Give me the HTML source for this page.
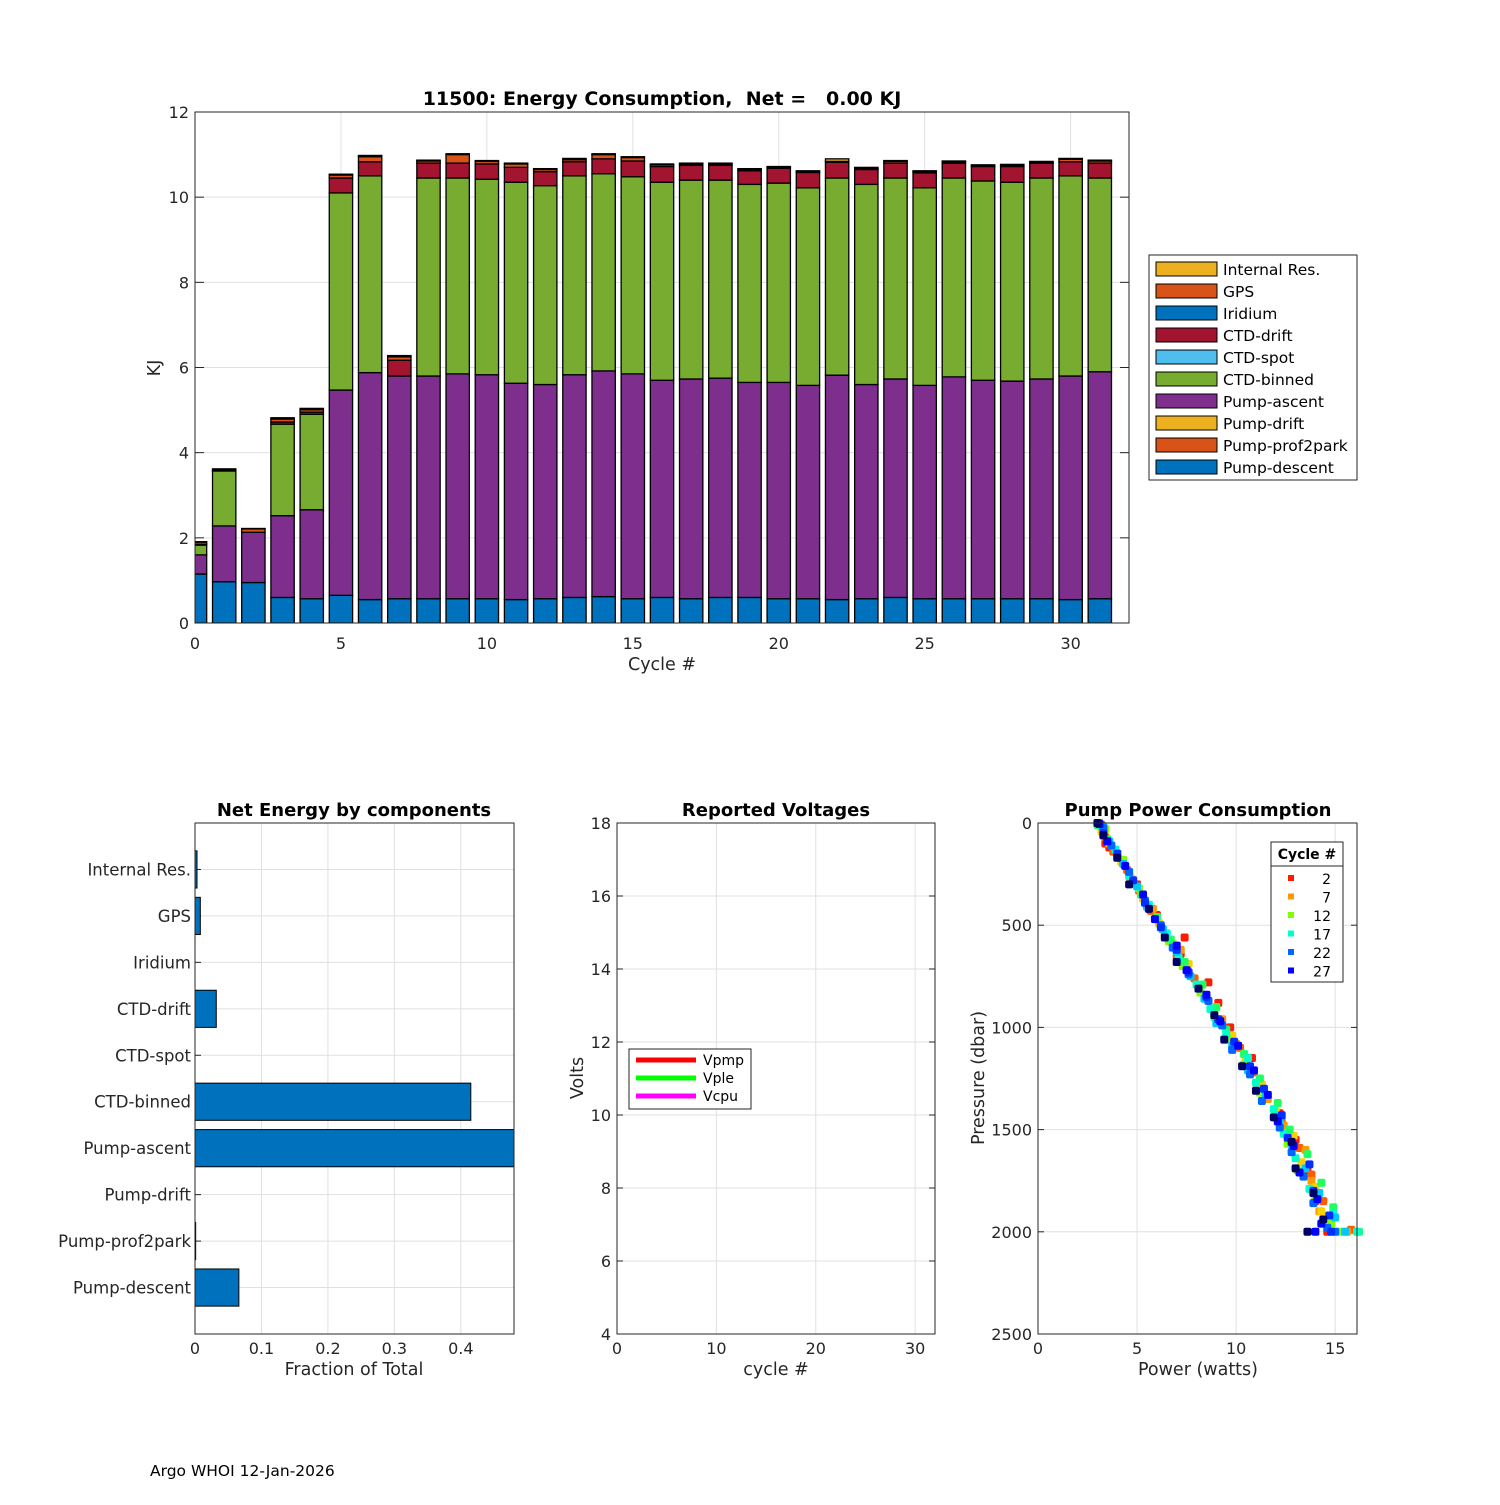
<!DOCTYPE html>
<html><head><meta charset="utf-8"><style>
body{margin:0;background:#fff;}
svg{font-family:"DejaVu Sans","Liberation Sans",sans-serif;}
</style></head><body>
<svg id="s" width="1500" height="1500" xmlns="http://www.w3.org/2000/svg"></svg>
<script>
// ---- Top chart data (KJ per component per cycle) ----
const cycles=[0,1,2,3,4,5,6,7,8,9,10,11,12,13,14,15,16,17,18,19,20,21,22,23,24,25,26,27,28,29,30,31];
const pumpDescent=[1.15,0.97,0.95,0.6,0.57,0.65,0.55,0.57,0.57,0.57,0.57,0.55,0.57,0.6,0.62,0.57,0.6,0.57,0.6,0.6,0.57,0.57,0.55,0.57,0.6,0.57,0.57,0.57,0.57,0.57,0.55,0.57];
const pumpProf2park=[0,0,0,0,0,0,0,0,0,0,0,0,0,0,0,0,0,0,0,0,0,0,0,0,0,0,0,0,0,0,0,0];
const pumpDrift=[0,0,0,0,0,0,0,0,0,0,0,0,0,0,0,0,0,0,0,0,0,0,0,0,0,0,0,0,0,0,0,0];
const pumpAscent=[0.45,1.31,1.18,1.92,2.09,4.82,5.33,5.23,5.23,5.28,5.26,5.08,5.03,5.23,5.3,5.28,5.1,5.16,5.15,5.05,5.08,5.01,5.27,5.03,5.13,5.01,5.21,5.13,5.11,5.16,5.25,5.33];
const ctdBinned=[0.23,1.29,0,2.15,2.24,4.63,4.62,0,4.65,4.6,4.59,4.72,4.67,4.67,4.63,4.63,4.65,4.67,4.65,4.65,4.68,4.64,4.63,4.7,4.72,4.64,4.67,4.68,4.67,4.72,4.7,4.55];
const ctdSpot=[0,0,0,0,0,0,0,0,0,0,0,0,0,0,0,0,0,0,0,0,0,0,0,0,0,0,0,0,0,0,0,0];
const ctdDrift=[0.02,0,0,0.05,0.05,0.35,0.33,0.37,0.35,0.35,0.36,0.35,0.33,0.33,0.35,0.37,0.37,0.35,0.35,0.32,0.35,0.36,0.37,0.35,0.35,0.35,0.35,0.34,0.37,0.35,0.33,0.35];
const iridium=[0,0,0,0,0,0,0,0,0,0,0,0,0,0,0,0,0,0,0,0,0,0,0,0,0,0,0,0,0,0,0,0];
const gps=[0.05,0.02,0.08,0.07,0.06,0.07,0.12,0.08,0.05,0.2,0.06,0.08,0.05,0.05,0.1,0.08,0.04,0.03,0.03,0.03,0.02,0.02,0.02,0.03,0.04,0.03,0.03,0.02,0.03,0.02,0.06,0.05];
const internalRes=[0.01,0.03,0.01,0.03,0.03,0.02,0.03,0.03,0.02,0.02,0.02,0.02,0.02,0.03,0.02,0.02,0.02,0.02,0.02,0.02,0.02,0.02,0.06,0.02,0.02,0.02,0.02,0.02,0.02,0.02,0.02,0.02];
const compNames=["Pump-descent","Pump-prof2park","Pump-drift","Pump-ascent","CTD-binned","CTD-spot","CTD-drift","Iridium","GPS","Internal Res."];
const compColors=["#0072BD","#D95319","#EDB120","#7E2F8E","#77AC30","#4DBEEE","#A2142F","#0072BD","#D95319","#EDB120"];
const yTicksTop=[0,2,4,6,8,10,12];
const xTicksTop=[0,5,10,15,20,25,30];
// ---- Fraction chart ----
const fracCats=["Internal Res.","GPS","Iridium","CTD-drift","CTD-spot","CTD-binned","Pump-ascent","Pump-drift","Pump-prof2park","Pump-descent"];
const fracVals=[0.003,0.008,0,0.032,0,0.415,0.49,0,0.001,0.066];
const fracTicks=[0,0.1,0.2,0.3,0.4];
// ---- Voltage chart ----
const voltYTicks=[4,6,8,10,12,14,16,18];
const voltXTicks=[0,10,20,30];
// ---- Pump power scatter ----
const pumpCycles=[2,4,7,9,12,14,17,19,22,24,27,31];
const pumpPres=[
[10,60,100,120,300,450,560,640,780,880,1000,1150,1300,1420,1550,1700,1850,2000],
[0,70,140,230,330,430,540,650,760,870,990,1100,1220,1340,1460,1590,1720,1850,1990],
[20,150,280,420,520,620,720,850,960,1080,1200,1350,1480,1600,1750,1900,2000],
[40,100,190,270,370,490,590,690,800,920,1040,1160,1280,1410,1530,1660,1780,1900,2000],
[30,180,320,460,580,700,830,950,1060,1180,1320,1440,1570,1700,1820,1960,2000],
[10,80,160,250,350,460,570,680,790,900,1010,1130,1250,1370,1500,1620,1760,1880,2000],
[15,130,260,400,540,660,790,910,1030,1150,1270,1400,1520,1640,1790,1910,2000],
[20,90,200,310,410,520,630,750,860,980,1090,1210,1330,1450,1570,1690,1810,1930,2000],
[25,110,240,380,500,610,740,870,990,1110,1230,1360,1490,1610,1730,1860,1980,2000],
[5,50,150,280,390,510,620,730,850,960,1070,1190,1300,1430,1540,1670,1800,1920,2000],
[5,90,210,350,470,600,720,840,970,1090,1210,1330,1460,1580,1710,1840,1960,2000],
[0,60,170,300,420,560,680,810,940,1060,1190,1310,1440,1560,1690,1810,1940,2000]];
const pumpPow=[
[3.2,3.3,3.4,3.6,5.0,6.0,7.4,7.2,8.6,9.1,9.7,10.8,11.4,12.2,13.0,13.6,14.0,14.6],
[3.1,3.4,3.8,4.5,5.1,5.7,6.4,7.0,7.9,8.6,9.3,10.2,10.9,11.5,12.3,13.2,13.8,14.4,15.8],
[3.3,4.0,4.8,5.8,6.3,7.2,7.5,8.4,9.3,10.0,10.6,11.6,12.4,13.5,13.8,14.2,15.6],
[3.2,3.6,4.2,4.7,5.3,6.1,6.8,7.6,8.2,8.9,9.8,10.5,11.3,12.0,12.9,13.3,14.0,14.3,15.4],
[3.4,4.3,5.1,6.0,6.6,7.3,8.2,8.9,9.6,10.4,11.2,12.0,12.6,13.1,14.0,14.8,15.2],
[3.0,3.5,4.0,4.6,5.2,6.0,6.7,7.4,8.3,9.0,9.5,10.4,11.2,12.1,12.7,13.6,14.3,14.9,16.2],
[3.2,3.9,4.6,5.6,6.5,7.1,8.0,8.7,9.5,10.6,11.0,11.9,12.4,13.0,13.7,14.9,16.1],
[3.3,3.6,4.3,5.0,5.5,6.3,7.0,7.7,8.4,9.0,9.8,10.6,11.5,12.2,12.8,13.5,14.2,15.0,15.5],
[3.3,3.7,4.6,5.4,6.2,6.8,7.6,8.6,9.3,9.8,10.7,11.3,12.2,12.8,13.4,13.9,14.6,15.0],
[3.1,3.3,4.0,4.8,5.4,6.2,7.0,7.6,8.5,9.1,9.9,10.7,11.4,12.3,12.6,13.7,13.9,14.7,14.8],
[3.1,3.5,4.4,5.3,5.9,7.0,7.5,8.5,9.2,10.1,10.9,11.6,12.1,12.9,13.2,14.1,14.3,14.0],
[3.0,3.3,4.0,4.6,5.6,6.4,7.0,8.1,8.9,9.4,10.3,11.0,11.9,12.8,13.0,13.9,14.4,13.6]];
const pumpColors=["#ff1a00","#ff5a00","#ff9900","#ffd000","#80ff00","#20ff60","#00ffcc","#00c8ff","#0066ff","#0030ff","#0000ff","#000066"];
const legendCycles=["2","7","12","17","22","27"];
const legendColors=["#ff1a00","#ff9900","#80ff00","#00ffcc","#0066ff","#0000ff"];
const presTicks=[0,500,1000,1500,2000,2500];
const powTicks=[0,5,10,15];

const NS="http://www.w3.org/2000/svg";
const S=document.getElementById('s');
function mk(tag,attrs,parent,text){const e=document.createElementNS(NS,tag);for(const k in attrs)e.setAttribute(k,attrs[k]);if(text!==undefined)e.textContent=text;(parent||S).appendChild(e);return e;}

// ===== Top chart =====
const T={x0:195,x1:1129,y0:623,y1:112,xmin:0,xmax:32,ymin:0,ymax:12};
const tx=v=>T.x0+(v-T.xmin)/(T.xmax-T.xmin)*(T.x1-T.x0);
const ty=v=>T.y0-(v-T.ymin)/(T.ymax-T.ymin)*(T.y0-T.y1);
let g=mk('g',{});


mk('rect',{x:T.x0,y:T.y1,width:T.x1-T.x0,height:T.y0-T.y1,fill:'#fff'},g);
yTicksTop.forEach(v=>{mk('line',{x1:T.x0,x2:T.x1,y1:ty(v),y2:ty(v),stroke:'#e0e0e0'},g);
 let t=mk('text',{x:T.x0-6,y:ty(v)+6,'text-anchor':'end','font-size':16,fill:'#262626'},g,String(v));
 
 mk('line',{x1:T.x0,x2:T.x0+9,y1:ty(v),y2:ty(v),stroke:'#262626'},g);mk('line',{x1:T.x1,x2:T.x1-9,y1:ty(v),y2:ty(v),stroke:'#262626'},g);});
xTicksTop.forEach(v=>{mk('line',{x1:tx(v),x2:tx(v),y1:T.y0,y2:T.y1,stroke:'#e0e0e0'},g);
 let t=mk('text',{x:tx(v),y:T.y0+26,'text-anchor':'middle','font-size':16,fill:'#262626'},g,String(v));
 });
const clip=mk('clipPath',{id:'cT'},g);mk('rect',{x:T.x0,y:T.y1,width:T.x1-T.x0,height:T.y0-T.y1},clip);
const bg=mk('g',{'clip-path':'url(#cT)'},g);
const comps=[pumpDescent,pumpProf2park,pumpDrift,pumpAscent,ctdBinned,ctdSpot,ctdDrift,iridium,gps,internalRes];
cycles.forEach((c,i)=>{let base=0;comps.forEach((arr,k)=>{const v=arr[i];if(v<=0)return;
 const r=mk('rect',{x:tx(c-0.4),y:ty(base+v),width:tx(c+0.4)-tx(c-0.4),height:ty(base)-ty(base+v),fill:compColors[k],stroke:'#000','stroke-width':1.3},bg);
 
 
 base+=v;});});
mk('rect',{x:T.x0,y:T.y1,width:T.x1-T.x0,height:T.y0-T.y1,fill:'none',stroke:'#262626'},g);
let tt=mk('text',{x:662,y:105,'text-anchor':'middle','font-size':19,'font-weight':'bold',fill:'#000',style:'white-space:pre'},g,'11500: Energy Consumption,  Net =   0.00 KJ');

let xl=mk('text',{x:662,y:670,'text-anchor':'middle','font-size':17.5,fill:'#262626'},g,'Cycle #');

let yl=mk('text',{x:160,y:368,'text-anchor':'middle','font-size':17.5,fill:'#262626',transform:'rotate(-90 160 368)'},g,'KJ');

// legend
const lg=mk('g',{},g);

mk('rect',{x:1149,y:255,width:208,height:225,fill:'#fff',stroke:'#262626'},lg);
for(let k=9;k>=0;k--){const row=9-k;const yy=269+row*22;
 const sw=mk('rect',{x:1156,y:yy-7,width:61,height:14,fill:compColors[k],stroke:'#000'},lg);
 
 const t=mk('text',{x:1223,y:yy+6,'font-size':15.5,fill:'#000'},lg,compNames[k]);
 }

// ===== Fraction chart =====
const F={x0:195,x1:514,y0:1334,y1:823,xmax:0.48};
const fx=v=>F.x0+v/F.xmax*(F.x1-F.x0);
const fy=i=>F.y1+(i+1)*(F.y0-F.y1)/11;
g=mk('g',{});

fracTicks.forEach(v=>{mk('line',{x1:fx(v),x2:fx(v),y1:F.y0,y2:F.y1,stroke:'#e0e0e0'},g);
 const t=mk('text',{x:fx(v),y:F.y0+20,'text-anchor':'middle','font-size':16,fill:'#262626'},g,String(v));
 });
fracCats.forEach((c,i)=>{mk('line',{x1:F.x0,x2:F.x1,y1:fy(i),y2:fy(i),stroke:'#e0e0e0'},g);
 mk('line',{x1:F.x0,x2:F.x0+6,y1:fy(i),y2:fy(i),stroke:'#262626'},g);
 const t=mk('text',{x:F.x0-4,y:fy(i)+6,'text-anchor':'end','font-size':16.5,fill:'#262626'},g,c);
 });
const c2=mk('clipPath',{id:'cF'},g);mk('rect',{x:F.x0,y:F.y1,width:F.x1-F.x0,height:F.y0-F.y1},c2);
const fg=mk('g',{'clip-path':'url(#cF)'},g);
fracVals.forEach((v,i)=>{if(v<=0)return;const h=0.8*(F.y0-F.y1)/11;
 const r=mk('rect',{x:fx(0),y:fy(i)-h/2,width:fx(v)-fx(0),height:h,fill:'#0072BD',stroke:'#000','stroke-width':1},fg);
 });
mk('rect',{x:F.x0,y:F.y1,width:F.x1-F.x0,height:F.y0-F.y1,fill:'none',stroke:'#262626'},g);
let t2=mk('text',{x:354,y:816,'text-anchor':'middle','font-size':18,'font-weight':'bold'},g,'Net Energy by components');

t2=mk('text',{x:354,y:1375,'text-anchor':'middle','font-size':17.5,fill:'#262626'},g,'Fraction of Total');


// ===== Voltage chart =====
const V={x0:617,x1:935,y0:1334,y1:823,xmax:32,ymin:4,ymax:18};
const vx=v=>V.x0+v/V.xmax*(V.x1-V.x0);
const vy=v=>V.y0-(v-V.ymin)/(V.ymax-V.ymin)*(V.y0-V.y1);
g=mk('g',{});

voltYTicks.forEach(v=>{mk('line',{x1:V.x0,x2:V.x1,y1:vy(v),y2:vy(v),stroke:'#e0e0e0'},g);
 mk('line',{x1:V.x0,x2:V.x0+6,y1:vy(v),y2:vy(v),stroke:'#262626'},g);mk('line',{x1:V.x1,x2:V.x1-6,y1:vy(v),y2:vy(v),stroke:'#262626'},g);
 const t=mk('text',{x:V.x0-6,y:vy(v)+6,'text-anchor':'end','font-size':16,fill:'#262626'},g,String(v));
 });
voltXTicks.forEach(v=>{mk('line',{x1:vx(v),x2:vx(v),y1:V.y0,y2:V.y1,stroke:'#e0e0e0'},g);
 const t=mk('text',{x:vx(v),y:V.y0+20,'text-anchor':'middle','font-size':16,fill:'#262626'},g,String(v));
 });
mk('rect',{x:V.x0,y:V.y1,width:V.x1-V.x0,height:V.y0-V.y1,fill:'none',stroke:'#262626'},g);
t2=mk('text',{x:776,y:816,'text-anchor':'middle','font-size':18,'font-weight':'bold'},g,'Reported Voltages');

t2=mk('text',{x:776,y:1375,'text-anchor':'middle','font-size':17.5,fill:'#262626'},g,'cycle #');

t2=mk('text',{x:583,y:1078,'text-anchor':'middle','font-size':17.5,fill:'#262626',transform:'rotate(-90 583 1078)'},g,'Volts');

const vl=mk('g',{},g);
mk('rect',{x:629,y:1049,width:122,height:60,fill:'#fff',stroke:'#262626'},vl);
[['Vpmp','#ff0000'],['Vple','#00ff00'],['Vcpu','#ff00ff']].forEach((e,i)=>{const yy=1060+i*18;
 mk('line',{x1:636,x2:696,y1:yy,y2:yy,stroke:e[1],'stroke-width':5},vl);
 const t=mk('text',{x:703,y:yy+5,'font-size':14},vl,e[0]);});

// ===== Pump power scatter =====
const P={x0:1038,x1:1357,y0:1334,y1:823,xmax:16.1,pmax:2500};
const px=v=>P.x0+v/P.xmax*(P.x1-P.x0);
const py=v=>P.y1+v/P.pmax*(P.y0-P.y1);
g=mk('g',{});

presTicks.forEach(v=>{mk('line',{x1:P.x0,x2:P.x1,y1:py(v),y2:py(v),stroke:'#e0e0e0'},g);
 mk('line',{x1:P.x0,x2:P.x0+6,y1:py(v),y2:py(v),stroke:'#262626'},g);mk('line',{x1:P.x1,x2:P.x1-6,y1:py(v),y2:py(v),stroke:'#262626'},g);
 const t=mk('text',{x:P.x0-6,y:py(v)+6,'text-anchor':'end','font-size':16,fill:'#262626'},g,String(v));
 });
powTicks.forEach(v=>{mk('line',{x1:px(v),x2:px(v),y1:P.y0,y2:P.y1,stroke:'#e0e0e0'},g);
 const t=mk('text',{x:px(v),y:P.y0+20,'text-anchor':'middle','font-size':16,fill:'#262626'},g,String(v));
 });
pumpCycles.forEach((c,k)=>{pumpPres[k].forEach((p,j)=>{const w=pumpPow[k][j];
 const r=mk('rect',{x:px(w)-4,y:py(p)-4,width:8,height:8,rx:2,fill:pumpColors[k]},g);
 });});
mk('rect',{x:P.x0,y:P.y1,width:P.x1-P.x0,height:P.y0-P.y1,fill:'none',stroke:'#262626'},g);
t2=mk('text',{x:1198,y:816,'text-anchor':'middle','font-size':18,'font-weight':'bold'},g,'Pump Power Consumption');

t2=mk('text',{x:1198,y:1375,'text-anchor':'middle','font-size':17.5,fill:'#262626'},g,'Power (watts)');

t2=mk('text',{x:984,y:1078,'text-anchor':'middle','font-size':17.5,fill:'#262626',transform:'rotate(-90 984 1078)'},g,'Pressure (dbar)');

const pl=mk('g',{},g);
mk('rect',{x:1271,y:842,width:72,height:140,fill:'#fff',stroke:'#262626'},pl);
mk('line',{x1:1271,x2:1343,y1:866,y2:866,stroke:'#262626'},pl);
t2=mk('text',{x:1307,y:859,'text-anchor':'middle','font-size':14,'font-weight':'bold'},pl,'Cycle #');

legendCycles.forEach((c,i)=>{const yy=878+i*18.5;
 mk('rect',{x:1288,y:yy-3,width:6,height:6,fill:legendColors[i]},pl);
 const t=mk('text',{x:1331,y:yy+6,'text-anchor':'end','font-size':14},pl,c);
 });

t2=mk('text',{x:150,y:1476,'font-size':15.5,fill:'#000'},S,'Argo WHOI 12-Jan-2026');

</script>
</body></html>
